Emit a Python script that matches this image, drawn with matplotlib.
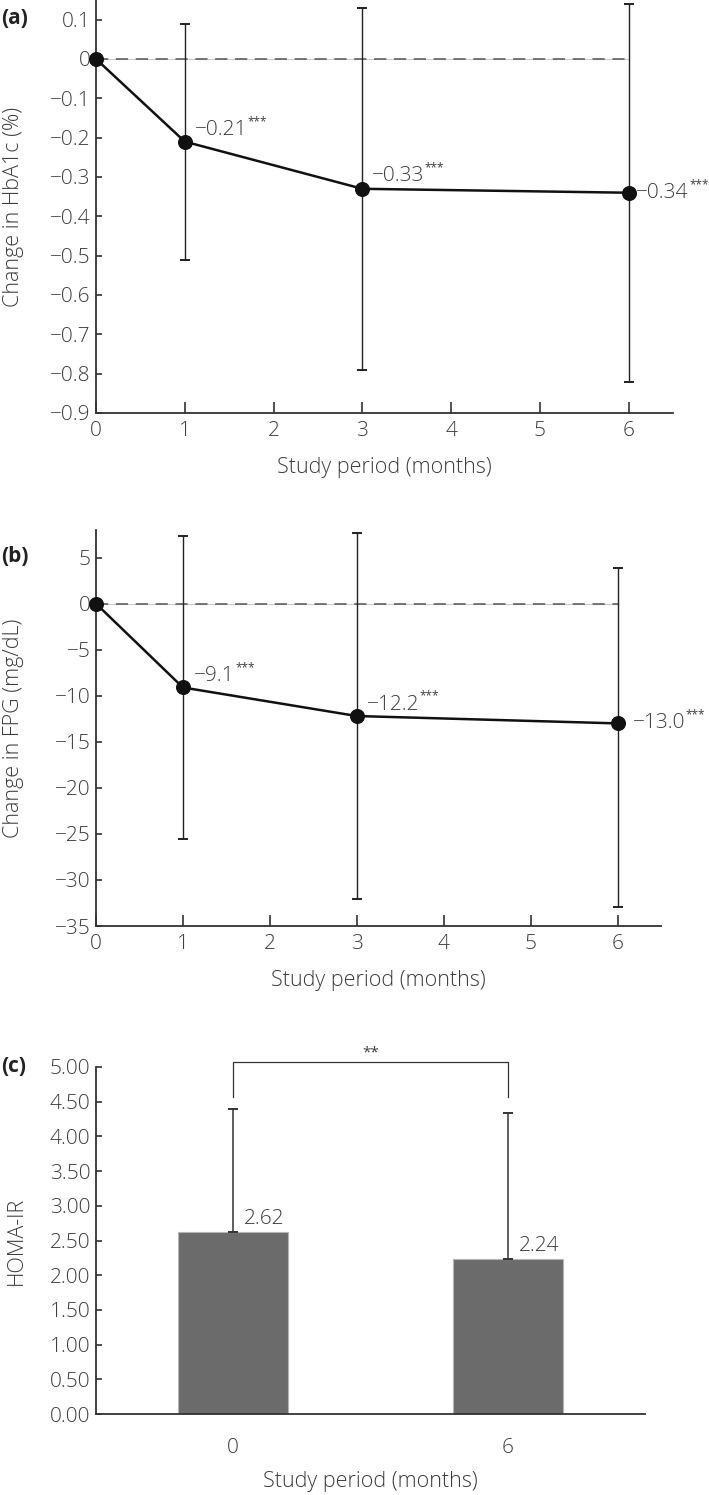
import matplotlib
matplotlib.use("Agg")
import matplotlib.pyplot as plt
from matplotlib.ticker import FuncFormatter, MultipleLocator

# ---------------- data ----------------
months = [0, 1, 3, 6]
hba1c_mean = [0.0, -0.21, -0.33, -0.34]
hba1c_low = [0.0, -0.51, -0.79, -0.82]
hba1c_high = [0.0, 0.09, 0.13, 0.14]
hba1c_labels = ["", "\u22120.21", "\u22120.33", "\u22120.34"]

fpg_mean = [0.0, -9.1, -12.2, -13.0]
fpg_low = [0.0, -25.5, -32.1, -32.9]
fpg_high = [0.0, 7.3, 7.7, 3.9]
fpg_labels = ["", "\u22129.1", "\u221212.2", "\u221213.0"]

homa_cats = ["0", "6"]
homa_mean = [2.62, 2.24]
homa_sd = [1.77, 2.10]
homa_labels = ["2.62", "2.24"]
sig_text = "**"
stars = "***"

# ---------------- style ----------------
FONT = ["Open Sans", "DejaVu Sans"]
plt.rcParams["font.family"] = FONT
TXT = "#3c3c3c"
AX = "#333333"
FS = 15
LFS = 15.5

W, H = 709, 1495
fig = plt.figure(figsize=(W / 100, H / 100), dpi=100)


def px_axes(left, top, right, bottom):
    return fig.add_axes([left / W, 1 - bottom / H, (right - left) / W, (bottom - top) / H])


def style_axes(ax, xpad=6):
    for s in ("top", "right"):
        ax.spines[s].set_visible(False)
    for s in ("left", "bottom"):
        ax.spines[s].set_color(AX)
        ax.spines[s].set_linewidth(1.3)
    ax.tick_params(axis="y", direction="in", length=4, width=1.2, color=AX,
                   labelsize=FS, labelcolor=TXT, pad=4)
    ax.tick_params(axis="x", direction="in", length=8, width=1.2, color=AX,
                   labelsize=FS, labelcolor=TXT, pad=xpad)
    for lab in ax.get_xticklabels() + ax.get_yticklabels():
        lab.set_fontweight("light")


def fmt1(v, pos=None):
    if abs(v) < 1e-9:
        return "0"
    return f"{v:.1f}".replace("-", "\u2212")


def fmt0(v, pos=None):
    if abs(v) < 1e-9:
        return "0"
    return f"{v:.0f}".replace("-", "\u2212")


def line_panel(ax, mean, low, high, labels, offsets):
    ax.plot([0, 6], [0, 0], color="#cccccc", lw=0.8, zorder=1)
    ax.plot([0, 6], [0, 0], color="#555555", lw=1.1, dashes=(8, 5), zorder=1.5)
    err_lo = [m - l for m, l in zip(mean[1:], low[1:])]
    err_hi = [h - m for m, h in zip(mean[1:], high[1:])]
    ax.errorbar(months[1:], mean[1:], yerr=[err_lo, err_hi], fmt="none",
                ecolor="#222222", elinewidth=1.0, capsize=3.5, capthick=1.4,
                zorder=2, clip_on=False)
    ax.plot(months, mean, color="#111111", lw=1.8, marker="o", markersize=9.8,
            markerfacecolor="#111111", zorder=3, clip_on=False)
    for x, y, lab, (dx, dy, va) in zip(months[1:], mean[1:], labels[1:], offsets):
        t = ax.annotate(lab, xy=(x, y), xytext=(dx, dy), textcoords="offset points",
                        ha="left", va=va, fontsize=FS, color=TXT, fontweight="light")
        ax.annotate(stars, xy=(1.0, 0.92), xycoords=t, xytext=(0.3, 0),
                    textcoords="offset points", ha="left", va="center",
                    fontsize=8.5, color=TXT)
    ax.set_xlim(0, 6.5)
    ax.set_xticks(range(0, 7))


# ---------------- panel a ----------------
axa = px_axes(96, 0, 673, 413)
line_panel(axa, hba1c_mean, hba1c_low, hba1c_high, hba1c_labels,
           [(7, 1, "bottom"), (7, 2, "bottom"), (5.5, 0, "center")])
axa.set_ylim(-0.9, 0.15)
axa.yaxis.set_major_locator(MultipleLocator(0.1))
axa.yaxis.set_major_formatter(FuncFormatter(fmt1))
style_axes(axa)
axa.set_xlabel("Study period (months)", fontsize=LFS, color=TXT,
               fontweight="light", labelpad=11)
axa.set_ylabel("Change in HbA1c (%)", fontsize=LFS, color=TXT, fontweight="light")
axa.yaxis.set_label_coords((24 - 96) / (673 - 96), 0.5)

# ---------------- panel b ----------------
axb = px_axes(96, 530, 661, 926)
line_panel(axb, fpg_mean, fpg_low, fpg_high, fpg_labels,
           [(8, 1, "bottom"), (7, 1, "bottom"), (11, 0, "center")])
axb.set_ylim(-35, 8)
axb.set_yticks(range(-35, 6, 5))
axb.yaxis.set_major_formatter(FuncFormatter(fmt0))
style_axes(axb)
axb.set_xlabel("Study period (months)", fontsize=LFS, color=TXT,
               fontweight="light", labelpad=11)
axb.set_ylabel("Change in FPG (mg/dL)", fontsize=LFS, color=TXT, fontweight="light")
axb.yaxis.set_label_coords((24 - 96) / (661 - 96), 0.5)

# ---------------- panel c ----------------
axc = px_axes(96, 1067, 645, 1414)
xpos = list(range(len(homa_cats)))
axc.bar(xpos, homa_mean, width=0.4, color="#6b6b6b", edgecolor="#b5b5b5",
        linewidth=0.8, zorder=2)
axc.errorbar(xpos, homa_mean, yerr=[[0] * len(homa_sd), homa_sd], fmt="none",
             ecolor="#333333", elinewidth=1.1, capsize=3.5, capthick=1.4, zorder=3)
for x, y, lab in zip(xpos, homa_mean, homa_labels):
    axc.annotate(lab, xy=(x, y), xytext=(8, 2), textcoords="offset points",
                 ha="left", va="bottom", fontsize=FS, color=TXT, fontweight="light")
# significance bracket
yb, yt = 4.57, 5.07
axc.plot([xpos[0], xpos[0], xpos[1], xpos[1]], [yb, yt, yt, yb],
         color="#333333", lw=0.9, clip_on=False, zorder=4)
axc.text((xpos[0] + xpos[1]) / 2, yt + 0.03, sig_text, ha="center", va="bottom",
         fontsize=11, color=TXT)
axc.set_xlim(-0.5, 1.5)
axc.set_ylim(0, 5)
axc.set_xticks(xpos)
axc.set_xticklabels(homa_cats)
axc.set_yticks([i * 0.5 for i in range(11)])
axc.yaxis.set_major_formatter(FuncFormatter(lambda v, p: f"{v:.2f}"))
style_axes(axc)
axc.tick_params(axis="x", length=0, pad=17)
axc.set_xlabel("Study period (months)", fontsize=LFS, color=TXT,
               fontweight="light", labelpad=10)
axc.set_ylabel("HOMA-IR", fontsize=LFS, color=TXT, fontweight="light")
axc.yaxis.set_label_coords((27 - 96) / (645 - 96), 0.5)

# panel letters
for lab, ypx in (("(a)", 19), ("(b)", 557), ("(c)", 1067)):
    fig.text(1 / W, 1 - ypx / H, lab, ha="left", va="center", fontsize=15,
             fontweight="bold", color="#222222")

fig.savefig("out.png", dpi=100)
